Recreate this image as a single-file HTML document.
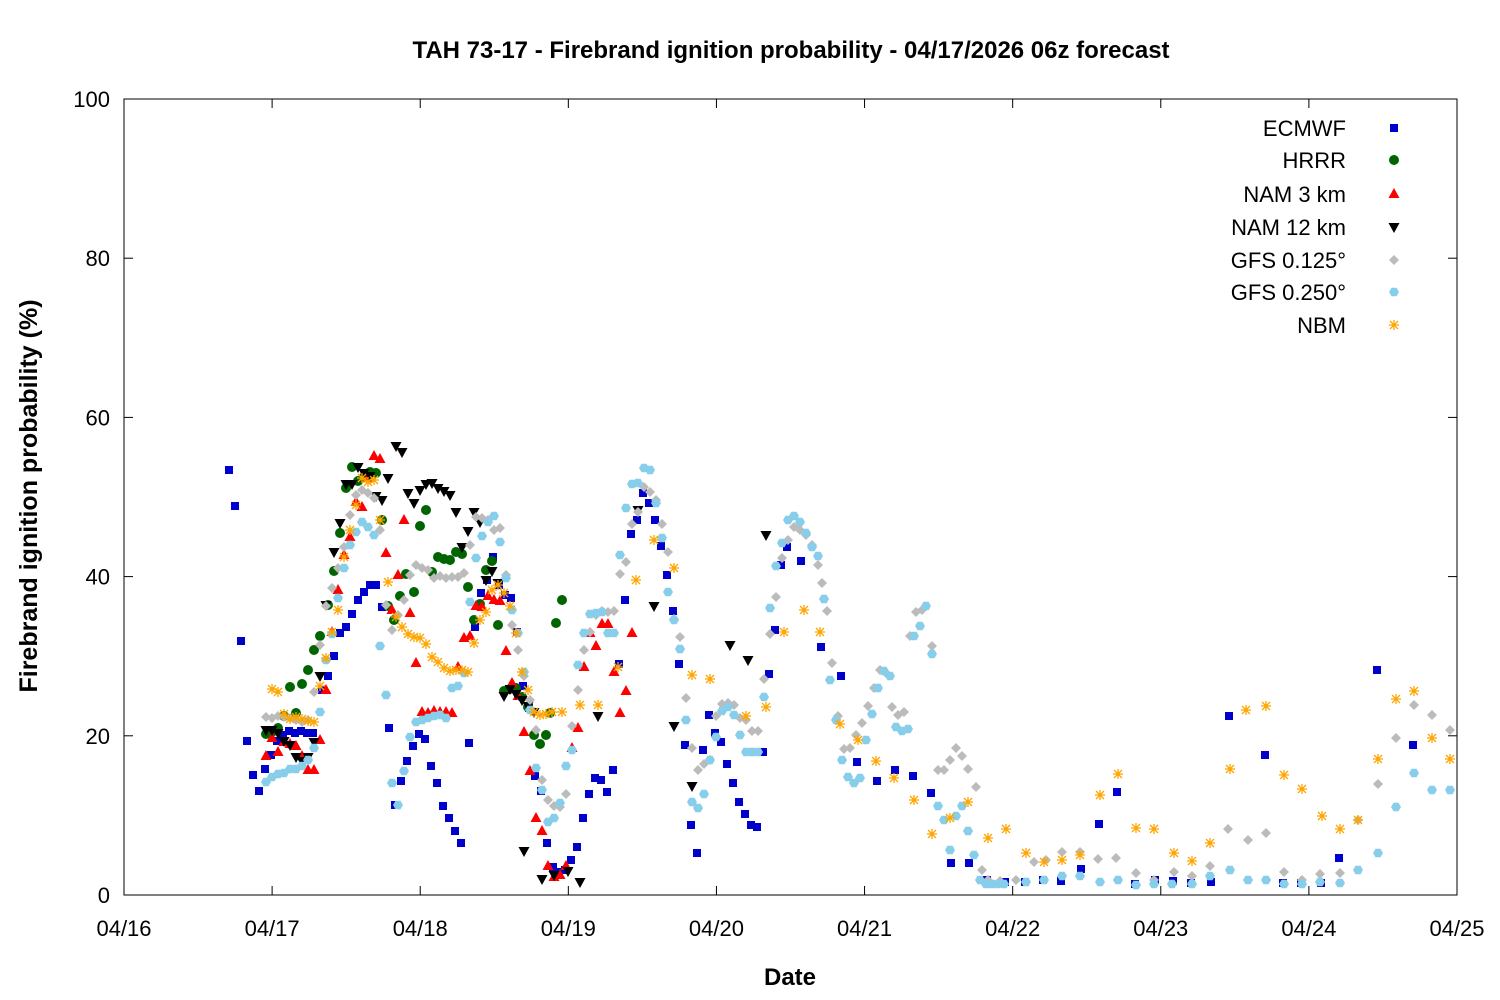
<!DOCTYPE html>
<html><head><meta charset="utf-8"><style>
body{margin:0;background:#fff;}
svg{display:block;font-family:"Liberation Sans","DejaVu Sans",sans-serif;}
</style></head><body>
<svg id="s" width="1500" height="1000" viewBox="0 0 1500 1000" xmlns="http://www.w3.org/2000/svg">
<rect width="1500" height="1000" fill="#fff"/>
<text x="791" y="58" text-anchor="middle" font-size="24" font-weight="bold">TAH 73-17 - Firebrand ignition probability - 04/17/2026 06z forecast</text>
<text x="790" y="985" text-anchor="middle" font-size="24" font-weight="bold">Date</text>
<text transform="translate(37,496) rotate(-90)" text-anchor="middle" font-size="25" font-weight="bold">Firebrand ignition probability (%)</text>
<rect x="124" y="99" width="1333" height="796" fill="none" stroke="#000" stroke-width="1"/>
<g id="ax" font-size="22"></g>
<g id="pts"></g>
<g id="leg" font-size="22"></g>
</svg>
<script>
const NS="http://www.w3.org/2000/svg";
function el(t,a,p,txt){const e=document.createElementNS(NS,t);for(const k in a)e.setAttribute(k,a[k]);if(txt!==undefined)e.textContent=txt;p.appendChild(e);return e;}
const ax=document.getElementById('ax'),pts=document.getElementById('pts'),leg=document.getElementById('leg');
for(let i=0;i<=5;i++){const y=895-i*159.2;
 el('line',{x1:124,y1:y,x2:133,y2:y,stroke:'#000'},ax);el('line',{x1:1457,y1:y,x2:1448,y2:y,stroke:'#000'},ax);
 el('text',{x:110,y:y+8,'text-anchor':'end'},ax,String(i*20));}
const days=['04/16','04/17','04/18','04/19','04/20','04/21','04/22','04/23','04/24','04/25'];
for(let i=0;i<10;i++){const x=124+i*1333/9;
 el('line',{x1:x,y1:895,x2:x,y2:886,stroke:'#000'},ax);el('line',{x1:x,y1:99,x2:x,y2:108,stroke:'#000'},ax);
 el('text',{x:x,y:936,'text-anchor':'middle'},ax,days[i]);}
function mk(type,x,y,c,g){
 if(type==='sq')el('rect',{x:x-4,y:y-4,width:8,height:8,fill:c},g);
 else if(type==='ci')el('circle',{cx:x,cy:y,r:5,fill:c},g);
 else if(type==='tu')el('polygon',{points:`${x},${y-6} ${x+5.5},${y+4} ${x-5.5},${y+4}`,fill:c},g);
 else if(type==='td')el('polygon',{points:`${x},${y+6} ${x+5.5},${y-4} ${x-5.5},${y-4}`,fill:c},g);
 else if(type==='di')el('polygon',{points:`${x},${y-5} ${x+5},${y} ${x},${y+5} ${x-5},${y}`,fill:c},g);
 else if(type==='hx'){let p=[];for(let k=0;k<6;k++){const a=Math.PI/3*k;p.push((x+5*Math.cos(a)).toFixed(1)+','+(y+5*Math.sin(a)).toFixed(1));}el('polygon',{points:p.join(' '),fill:c},g);}
 else if(type==='as'){const d=`M${x-5} ${y}H${x+5}M${x} ${y-5}V${y+5}M${x-4} ${y-4}L${x+4} ${y+4}M${x-4} ${y+4}L${x+4} ${y-4}`;el('path',{d:d,stroke:c,'stroke-width':1.3,fill:'none'},g);}
}
function P(s){const a=s.trim().split(/\s+/).map(Number);const r=[];for(let i=0;i<a.length;i+=2)r.push([a[i],a[i+1]]);return r;}
const S=[
['ECMWF','sq','#0000cc',P(`229 470 235 506 241 641 247 741 253 775 259 791 265 769 271 755 277 741 283 735 289 731 295 733 301 731 307 733 313 733 322 690 328 676 334 656 340 633 346 627 352 614 358 600 364 592 370 585 376 585 382 607 389 728 395 805 401 781 407 761 413 746 419 734 425 739 431 766 437 783 443 806 449 818 455 831 461 843 469 743 475 627 481 593 487 580 493 557 499 585 505 595 511 598 517 632 523 686 529 708 535 776 541 791 547 843 553 867 559 872 565 870 571 860 577 847 583 818 589 794 595 778 601 780 607 792 613 770 619 664 625 600 631 534 637 520 643 493 649 503 655 520 661 546 667 575 673 611 679 664 685 745 691 825 697 853 703 750 709 715 715 733 721 742 727 764 733 783 739 802 745 814 751 825 757 827 763 752 769 674 775 630 781 565 787 547 801 561 821 647 841 676 857 762 877 781 895 770 913 776 931 793 951 863 969 863 987 880 1005 882 1025 882 1043 880 1061 881 1081 869 1099 824 1117 792 1135 884 1155 880 1173 881 1191 883 1211 882 1229 716 1265 755 1283 883 1301 883 1321 883 1339 858 1377 670 1413 745`)],
['HRRR','ci','#006400',P(`266 734 272 732 278 728 284 716 290 687 296 713 302 684 308 670 314 650 320 636 328 605 334 571 340 533 346 488 352 467 358 481 364 477 370 472 376 473 382 520 388 606 394 620 400 596 406 574 414 592 420 526 426 510 432 572 438 557 444 559 450 560 456 552 462 554 468 587 474 620 480 604 486 570 492 561 498 625 504 691 510 689 516 688 522 697 528 707 534 735 540 744 546 735 550 713 556 623 562 600`)],
['NAM 3 km','tu','#ff0000',P(`266 756 272 738 278 752 284 742 290 744 296 746 302 756 308 770 314 770 320 740 326 690 332 632 338 590 344 555 350 537 356 502 362 507 368 478 374 456 380 459 386 553 392 610 398 575 404 520 410 613 416 663 422 712 428 713 434 711 440 712 446 712 452 713 458 667 464 638 470 636 476 606 482 607 488 596 494 600 500 601 506 651 512 683 518 696 524 732 530 771 536 818 542 831 548 866 554 877 560 875 566 866 572 748 578 728 584 667 590 633 596 646 602 624 608 624 614 672 620 713 626 691 632 633`)],
['NAM 12 km','td','#000000',P(`266 730 272 730 278 733 284 741 290 745 296 757 302 761 308 757 314 742 320 676 326 605 334 552 340 523 346 484 352 484 358 467 364 473 370 476 376 496 382 500 388 478 396 446 402 452 408 493 414 503 420 490 426 484 432 483 438 488 444 491 450 495 456 512 462 547 468 531 474 512 480 522 486 580 492 571 498 583 504 696 510 689 516 694 522 700 528 706 534 712 524 851 542 879 554 875 568 871 580 882 598 716 638 510 654 606 674 726 692 786 730 645 748 660 766 535`)],
['GFS 0.125°','di','#bbbbbb',P(`266 717 272 718 278 716 284 717 290 718 296 720 302 722 308 720 314 692 320 645 326 606 332 588 338 568 344 547 350 515 356 495 362 490 368 493 374 498 380 530 386 605 392 630 398 615 404 600 410 575 416 565 422 568 428 570 434 578 440 576 446 578 452 577 458 577 464 573 470 545 476 517 482 518 488 520 494 530 500 528 506 575 512 625 518 650 524 676 530 700 536 730 542 780 548 800 554 806 560 807 566 794 572 726 578 690 584 650 590 632 596 615 602 611 608 612 614 611 620 574 626 562 632 524 638 512 644 487 650 492 656 500 662 524 668 552 674 619 680 637 686 698 692 748 698 770 704 764 710 760 716 716 722 704 728 703 734 705 740 718 746 720 752 731 758 731 764 679 770 634 776 597 782 558 788 540 794 527 800 530 806 535 812 545 818 565 822 583 827 611 832 663 838 716 844 749 850 748 856 735 862 723 868 706 874 688 880 670 886 673 892 707 898 715 904 712 910 636 916 612 922 610 932 646 938 770 944 770 950 760 956 748 962 756 968 769 976 787 982 870 988 880 1000 881 1016 880 1034 862 1046 860 1062 852 1080 852 1098 859 1116 858 1136 873 1154 880 1174 872 1192 876 1210 866 1228 829 1248 840 1266 833 1284 872 1302 880 1320 874 1340 873 1358 820 1378 784 1396 738 1414 705 1432 715 1450 730`)],
['GFS 0.250°','hx','#87ceeb',P(`266 782 272 777 278 774 284 773 290 769 296 769 302 766 308 760 314 748 320 712 326 660 332 634 338 598 344 568 350 545 356 532 362 522 368 527 374 535 380 646 386 695 392 783 398 805 404 771 410 737 416 722 422 720 428 718 434 716 440 715 446 718 452 688 458 686 464 673 470 602 476 558 482 536 488 522 494 516 500 542 506 578 512 610 518 633 524 672 530 710 536 768 542 790 548 822 554 818 560 803 566 766 572 750 578 665 584 633 590 614 596 613 602 612 608 633 614 633 620 555 626 508 632 484 638 483 644 468 650 470 656 503 662 538 668 592 674 620 680 649 686 720 692 802 698 808 704 794 710 760 716 737 722 711 728 707 734 715 740 735 746 752 752 752 758 752 764 697 770 608 776 566 782 543 788 520 794 516 800 522 806 533 812 547 818 556 824 599 830 680 836 720 842 760 848 777 854 783 860 778 866 740 872 714 878 688 884 671 890 676 896 727 902 731 908 729 914 636 920 626 926 606 932 654 938 806 944 820 950 850 956 816 962 806 968 831 974 855 980 880 986 884 992 884 998 884 1004 884 1026 882 1044 880 1062 876 1080 876 1100 882 1118 880 1136 885 1154 884 1172 884 1192 884 1210 876 1230 870 1248 880 1266 880 1284 884 1302 884 1320 882 1340 883 1358 870 1378 853 1396 807 1414 773 1432 790 1450 790`)],
['NBM','as','#ffa500',P(`272 689 278 692 284 714 290 719 296 717 302 719 308 721 314 722 320 686 326 658 332 632 338 610 344 557 350 530 356 505 362 478 368 482 374 480 380 520 388 582 396 617 402 627 408 634 414 637 420 638 426 644 432 657 438 662 444 668 450 671 456 670 462 670 468 672 474 643 480 620 486 612 492 590 498 585 504 593 510 606 516 633 522 672 528 690 534 712 540 715 546 714 552 712 562 712 580 705 598 705 618 667 636 580 654 540 674 568 692 675 710 679 746 716 766 707 784 632 804 610 820 632 840 724 858 740 876 761 894 778 914 800 932 834 950 818 968 802 988 838 1006 829 1026 853 1044 862 1062 860 1080 855 1100 795 1118 774 1136 828 1154 829 1174 853 1192 861 1210 843 1230 769 1246 710 1266 706 1284 775 1302 789 1322 816 1340 829 1358 820 1378 759 1396 699 1414 691 1432 738 1450 759`)]
];
const ly=[128,160,194,227,260,292,325];
S.forEach((s,i)=>{const g=el('g',{},pts);s[3].forEach(p=>mk(s[1],p[0],p[1],s[2],g));
 el('text',{x:1346,y:ly[i]+8,'text-anchor':'end'},leg,s[0]);mk(s[1],1394,ly[i],s[2],leg);});
</script>
</body></html>
